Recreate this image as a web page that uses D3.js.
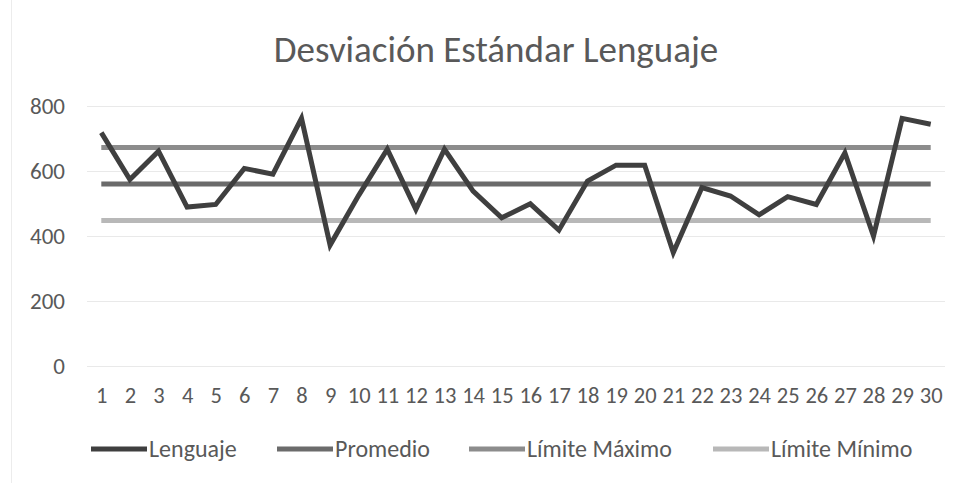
<!DOCTYPE html>
<html>
<head>
    <meta charset="utf-8">
    <title>Desviación Estándar Lenguaje</title>
    <script src="https://d3js.org/d3.v7.min.js"></script>
    <style>
        body { margin: 0; background: #fff; }
        svg text { font-family: Carlito, Calibri, Lato, sans-serif; fill: #595959; }
        .axis path, .axis line { display: none; }
        .grid line { stroke: #e9e9e9; stroke-width: 1; }
        .grid path { display: none; }
    </style>
</head>
<body>
    <script>
        // datos
        var alumnos = d3.range(1, 31);
        var lenguaje = [718, 574, 661, 489, 497, 608, 590, 762, 372, 525,
                        667, 482, 667, 538, 456, 499, 418, 569, 618, 618,
                        349, 549, 523, 465, 521, 497, 656, 400, 762, 744];
        var promedio = 560;
        var limiteMaximo = 672;
        var limiteMinimo = 448;
        var yTicks = [0, 200, 400, 600, 800];

        var series = [
            { name: "Lenguaje", color: "#3f3f3f", width: 5 },
            { name: "Promedio", color: "#6b6b6b", width: 5, value: promedio },
            { name: "Límite Máximo", color: "#8c8c8c", width: 5, value: limiteMaximo },
            { name: "Límite Mínimo", color: "#b8b8b8", width: 5, value: limiteMinimo }
        ];

        var svgWidth = 966, svgHeight = 483;
        var margin = { top: 106, right: 21, bottom: 117, left: 87 },
            width = svgWidth - margin.left - margin.right,
            height = svgHeight - margin.top - margin.bottom;

        var svg = d3.select("body").append("svg")
            .attr("width", svgWidth)
            .attr("height", svgHeight);

        // borde izquierdo del area del grafico
        svg.append("line")
            .attr("x1", 11.5).attr("x2", 11.5)
            .attr("y1", 0).attr("y2", svgHeight)
            .attr("stroke", "#ececec");

        svg.append("text")
            .attr("x", 496)
            .attr("y", 62)
            .attr("text-anchor", "middle")
            .style("font-size", "37px")
            .text("Desviación Estándar Lenguaje");

        var g = svg.append("g")
            .attr("transform", "translate(" + margin.left + "," + margin.top + ")");

        var x = d3.scalePoint().domain(alumnos).range([0, width]).padding(0.5);
        var y = d3.scaleLinear().domain([0, 800]).range([height, 0]);

        g.append("g")
            .attr("class", "grid")
            .call(d3.axisLeft(y).tickValues(yTicks).tickSize(-width).tickFormat(""));

        g.append("g")
            .attr("class", "axis")
            .call(d3.axisLeft(y).tickValues(yTicks).tickSize(0).tickPadding(22))
            .selectAll("text")
            .style("font-size", "23px");

        g.append("g")
            .attr("class", "axis")
            .attr("transform", "translate(0," + height + ")")
            .call(d3.axisBottom(x).tickSize(0).tickPadding(21))
            .selectAll("text")
            .style("font-size", "22.5px");

        var line = d3.line()
            .x(function (d, i) { return x(alumnos[i]); })
            .y(function (d) { return y(d); });

        // lineas horizontales: promedio y limites
        series.slice(1).reverse().forEach(function (s) {
            g.append("line")
                .attr("x1", x(alumnos[0]))
                .attr("x2", x(alumnos[alumnos.length - 1]))
                .attr("y1", y(s.value))
                .attr("y2", y(s.value))
                .attr("stroke", s.color)
                .attr("stroke-width", s.width);
        });

        g.append("path")
            .datum(lenguaje)
            .attr("fill", "none")
            .attr("stroke", series[0].color)
            .attr("stroke-width", series[0].width)
            .attr("stroke-linejoin", "miter")
            .attr("d", line);

        // leyenda
        var legendX = [91, 277, 469, 713];
        var legend = svg.append("g").attr("transform", "translate(0,449)");
        series.forEach(function (s, i) {
            var item = legend.append("g").attr("transform", "translate(" + legendX[i] + ",0)");
            item.append("line")
                .attr("x1", 0).attr("x2", 56)
                .attr("stroke", s.color)
                .attr("stroke-width", s.width);
            item.append("text")
                .attr("x", 58)
                .attr("y", 0)
                .attr("dy", "0.35em")
                .style("font-size", "24px")
                .text(s.name);
        });
    </script>
</body>
</html>
